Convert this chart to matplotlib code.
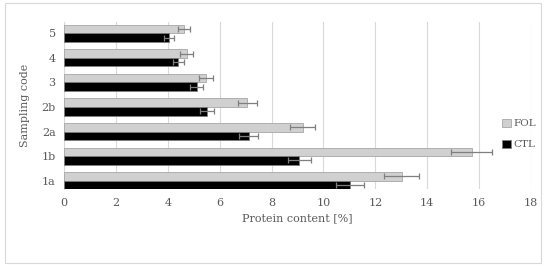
import numpy as np
import matplotlib.pyplot as plt
from matplotlib.patches import Rectangle

# Protein content per sampling code
codes = ['1a', '1b', '2a', '2b', '3', '4', '5']
ctl = [11.03, 9.07, 7.12, 5.50, 5.12, 4.41, 4.05]
ctl_err = [0.54, 0.45, 0.37, 0.27, 0.25, 0.20, 0.20]
fol = [13.02, 15.72, 9.20, 7.06, 5.49, 4.73, 4.64]
fol_err = [0.67, 0.79, 0.48, 0.36, 0.27, 0.25, 0.23]

plt.rcParams['font.family'] = ['DejaVu Serif']
txt = '#595959'

fig = plt.figure(figsize=(5.5, 2.69), dpi=100)
fig.patches.append(Rectangle((4.5 / 550, 1 - 263 / 269), 536 / 550, 260 / 269,
                             transform=fig.transFigure, fill=False,
                             edgecolor='#d9d9d9', linewidth=0.8))
ax = fig.add_axes([64 / 550, 1 - 189.3 / 269, 467 / 550, 167.6 / 269])

y = np.arange(len(codes))
h = 0.35
ebar = dict(ecolor='#7f7f7f', elinewidth=0.9, capsize=2.5, capthick=0.9)
ax.barh(y + h / 2, fol, height=h, color='#d0d0d0', edgecolor='#a6a6a6',
        linewidth=0.6, xerr=fol_err, error_kw=ebar, label='FOL', zorder=3)
ax.barh(y - h / 2, ctl, height=h, color='black', edgecolor='#7f7f7f',
        linewidth=0.6, xerr=ctl_err, error_kw=ebar, label='CTL', zorder=3)

ax.set_xlim(0, 18)
ax.set_xticks(range(0, 19, 2))
ax.set_ylim(-0.35, 6.47)
ax.set_yticks(y)
ax.set_yticklabels(codes)
ax.grid(axis='x', color='#d9d9d9', linewidth=0.8, zorder=0)
for s in ['top', 'right', 'bottom']:
    ax.spines[s].set_visible(False)
ax.spines['left'].set_color('#d9d9d9')
ax.tick_params(length=0, labelsize=8, colors=txt, pad=6)
ax.set_xlabel('Protein content [%]', fontsize=8, color=txt, labelpad=4)
ax.set_ylabel('Sampling code', fontsize=8, color=txt, labelpad=8)

handles, labels = ax.get_legend_handles_labels()
leg = fig.legend(handles, labels, loc='center left',
                 bbox_to_anchor=(493 / 550, 1 - 134 / 269), frameon=False,
                 fontsize=7.5, handlelength=0.8, handleheight=0.8,
                 handletextpad=0.3, labelspacing=1.1, labelcolor=txt)

fig.savefig('out.png', dpi=100)
